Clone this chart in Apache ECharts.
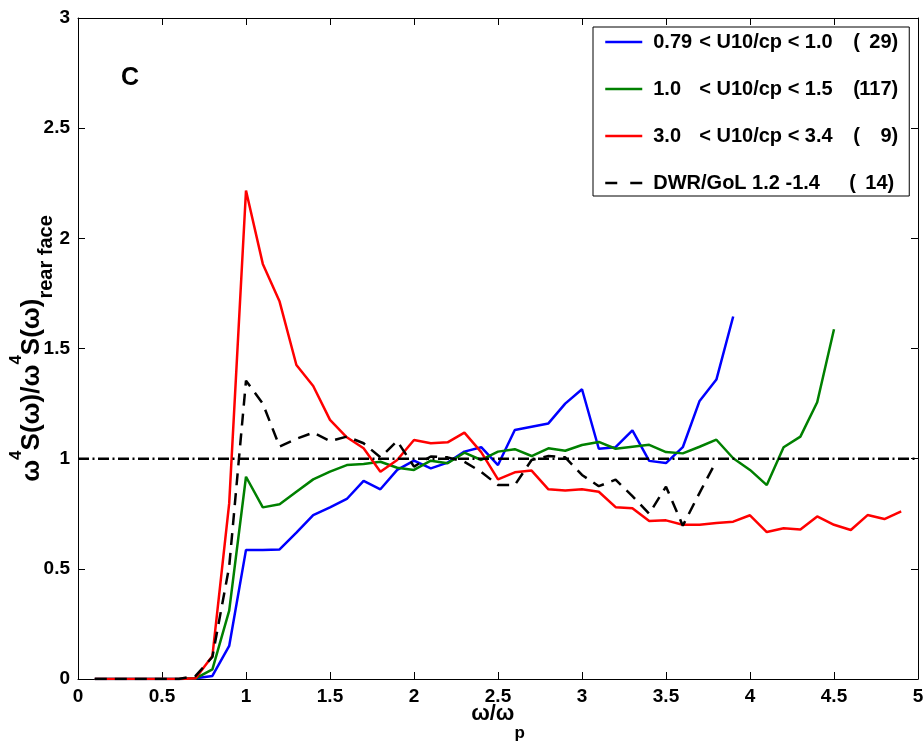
<!DOCTYPE html>
<html>
<head>
<meta charset="utf-8">
<script src="https://cdn.jsdelivr.net/npm/echarts@6/dist/echarts.min.js"></script>
<style>
  html, body { margin: 0; padding: 0; background: #fff; }
  #chart { width: 924px; height: 742px; }
</style>
</head>
<body>
<div id="chart"></div>
<script>
// Normalised frequency ω/ωp
var freq = [0.1, 0.2, 0.3, 0.4, 0.5, 0.6, 0.7, 0.8, 0.9, 1.0,
            1.1, 1.2, 1.3, 1.4, 1.5, 1.6, 1.7, 1.8, 1.9, 2.0,
            2.1, 2.2, 2.3, 2.4, 2.5, 2.6, 2.7, 2.8, 2.9, 3.0,
            3.1, 3.2, 3.3, 3.4, 3.5, 3.6, 3.7, 3.8, 3.9, 4.0,
            4.1, 4.2, 4.3, 4.4, 4.5, 4.6, 4.7, 4.8, 4.9];

// 0.79 < U10/cp < 1.0 (29 spectra), up to 3.9
var lowAge = [0, 0, 0, 0, 0, 0, 0.003, 0.014, 0.15, 0.586,
              0.586, 0.588, 0.664, 0.744, 0.779, 0.817, 0.899, 0.861, 0.949, 0.991,
              0.956, 0.982, 1.032, 1.052, 0.971, 1.13, 1.145, 1.16, 1.25, 1.315,
              1.045, 1.052, 1.128, 0.99, 0.98, 1.052, 1.262, 1.359, 1.645];

// 1.0 < U10/cp < 1.5 (117 spectra), up to 4.5
var midAge = [0, 0, 0, 0, 0, 0, 0.003, 0.044, 0.31, 0.918,
              0.779, 0.793, 0.85, 0.906, 0.941, 0.971, 0.976, 0.986, 0.959, 0.949,
              0.991, 0.979, 1.027, 0.994, 1.032, 1.043, 1.012, 1.047, 1.036, 1.062,
              1.076, 1.045, 1.054, 1.063, 1.03, 1.024, 1.054, 1.086, 1.002, 0.949,
              0.88, 1.052, 1.10, 1.256, 1.587];

// 3.0 < U10/cp < 3.4 (9 spectra), up to 4.9
var highAge = [0, 0, 0, 0, 0, 0, 0.003, 0.104, 0.797, 2.217,
               1.884, 1.713, 1.425, 1.33, 1.176, 1.097, 1.047, 0.941, 0.994, 1.085,
               1.07, 1.074, 1.118, 1.03, 0.906, 0.938, 0.946, 0.861, 0.855, 0.861,
               0.85, 0.78, 0.775, 0.717, 0.72, 0.70, 0.70, 0.708, 0.714, 0.743,
               0.667, 0.684, 0.679, 0.738, 0.70, 0.676, 0.744, 0.726, 0.761];

// DWR/GoL 1.2 - 1.4 (14 spectra), up to 3.8
var dwrGol = [0, 0, 0, 0, 0, 0, 0.014, 0.10, 0.51, 1.354,
              1.25, 1.055, 1.09, 1.118, 1.08, 1.10, 1.07, 1.006, 1.08, 0.964,
              1.01, 1.006, 0.986, 0.94, 0.88, 0.88, 0.994, 1.012, 1.006, 0.926,
              0.875, 0.905, 0.83, 0.75, 0.873, 0.696, 0.845, 0.99];

// Unit reference level
var refX = [0, 5];
var refY = [1, 1];

var seriesNames = ['0.79 < U10/cp < 1.0', '1.0 < U10/cp < 1.5', '3.0 < U10/cp < 3.4', 'DWR/GoL 1.2 -1.4'];
var legendParts = [
  ['0.79', '< U10/cp < 1.0', '29)'],
  ['1.0', '< U10/cp < 1.5', '117)'],
  ['3.0', '< U10/cp < 3.4', '9)'],
  ['DWR/GoL 1.2 -1.4', '', '14)']
];

function pairs(xs, ys) {
  var out = [];
  for (var i = 0; i < ys.length; i++) out.push([xs[i], ys[i]]);
  return out;
}

var FONT = '"Liberation Sans", Arial, Helvetica, sans-serif';

var chart = echarts.init(document.getElementById('chart'), null, { renderer: 'canvas' });

var axisCommon = {
  type: 'value',
  splitLine: { show: false },
  axisLine: { show: true, onZero: false, lineStyle: { color: '#000', width: 1 } },
  axisTick: { show: true, inside: true, length: 7, lineStyle: { color: '#000', width: 1 } }
};

var tickLabel = { color: '#000', fontFamily: FONT, fontWeight: 'bold', fontSize: 19, margin: 8 };

function legendRich(w, extra) {
  return Object.assign({ width: w, fontFamily: FONT, fontWeight: 'bold', fontSize: 20, color: '#000' }, extra || {});
}

var option = {
  animation: false,
  backgroundColor: '#fff',
  grid: { left: 78, right: 6, top: 18, bottom: 63, containLabel: false, outerBoundsMode: 'none' },
  xAxis: [
    Object.assign({}, axisCommon, {
      position: 'bottom', min: 0, max: 5, interval: 0.5,
      axisLabel: tickLabel,
      name: '{n|ω/ω}{sub|p}',
      nameLocation: 'middle',
      nameGap: 24,
      nameMoveOverlap: false,
      nameTextStyle: {
        color: '#000', fontFamily: FONT, fontWeight: 'bold', fontSize: 22,
        rich: {
          n: { fontFamily: FONT, fontWeight: 'bold', fontSize: 22, lineHeight: 24, verticalAlign: 'top', color: '#000' },
          sub: { fontFamily: FONT, fontWeight: 'bold', fontSize: 17, lineHeight: 18, padding: [22, 0, 0, 0], verticalAlign: 'top', color: '#000' }
        }
      }
    }),
    Object.assign({}, axisCommon, {
      position: 'top', min: 0, max: 5, interval: 0.5,
      axisLabel: { show: false }
    })
  ],
  yAxis: [
    Object.assign({}, axisCommon, {
      position: 'left', min: 0, max: 3, interval: 0.5,
      axisLabel: tickLabel,
      name: '{n|ω}{sup|4}{n|S(ω)/ω}{sup|4}{n|S(ω)}{sub|rear face}',
      nameLocation: 'middle',
      nameRotate: 90,
      nameGap: 44,
      nameMoveOverlap: false,
      nameTextStyle: {
        color: '#000', fontFamily: FONT, fontWeight: 'bold', fontSize: 26,
        rich: {
          n: { fontFamily: FONT, fontWeight: 'bold', fontSize: 26, lineHeight: 26, padding: [11, 0, 0, 0], verticalAlign: 'top', color: '#000' },
          sup: { fontFamily: FONT, fontWeight: 'bold', fontSize: 17, lineHeight: 18, verticalAlign: 'top', color: '#000' },
          sub: { fontFamily: FONT, fontWeight: 'bold', fontSize: 20, lineHeight: 20, padding: [28, 0, 0, 0], verticalAlign: 'top', color: '#000' }
        }
      }
    }),
    Object.assign({}, axisCommon, {
      position: 'right', min: 0, max: 3, interval: 0.5,
      axisLabel: { show: false }
    })
  ],
  legend: {
    show: true,
    orient: 'vertical',
    left: 593,
    top: 27,
    padding: [5, 11, 3, 11],
    itemGap: 27,
    itemWidth: 37,
    itemHeight: 14,
    backgroundColor: '#fff',
    borderColor: '#000',
    borderWidth: 1,
    borderRadius: 0,
    itemStyle: { color: 'rgba(0,0,0,0)', borderWidth: 0, opacity: 0 },
    data: [
      { name: seriesNames[0], lineStyle: { color: '#0000ff', width: 2.5, type: 'solid' } },
      { name: seriesNames[1], lineStyle: { color: '#008000', width: 2.5, type: 'solid' } },
      { name: seriesNames[2], lineStyle: { color: '#ff0000', width: 2.5, type: 'solid' } },
      { name: seriesNames[3], lineStyle: { color: '#000', width: 2.5, type: [12, 13] } }
    ],
    formatter: function (name) {
      var p = legendParts[seriesNames.indexOf(name)];
      if (p[1] === '') return '{e|' + p[0] + '}{c|(}{d|' + p[2] + '}';
      return '{a|' + p[0] + '}{b|' + p[1] + '}{c|(}{d|' + p[2] + '}';
    },
    textStyle: {
      color: '#000', fontFamily: FONT, fontWeight: 'bold', fontSize: 20, lineHeight: 20,
      padding: [0, 0, 0, 6],
      rich: {
        a: legendRich(46),
        b: legendRich(154),
        e: legendRich(196),
        c: legendRich(10),
        d: legendRich(35, { align: 'right' })
      }
    }
  },
  graphic: [
    {
      type: 'text',
      left: 121,
      top: 66,
      style: { text: 'C', fill: '#000', font: 'bold 25px ' + FONT }
    }
  ],
  series: [
    {
      name: seriesNames[0], type: 'line', symbol: 'none',
      data: pairs(freq, lowAge),
      lineStyle: { color: '#0000ff', width: 2.5 },
      itemStyle: { color: '#0000ff' },
      z: 2
    },
    {
      name: seriesNames[1], type: 'line', symbol: 'none',
      data: pairs(freq, midAge),
      lineStyle: { color: '#008000', width: 2.5 },
      itemStyle: { color: '#008000' },
      z: 3
    },
    {
      name: seriesNames[2], type: 'line', symbol: 'none',
      data: pairs(freq, highAge),
      lineStyle: { color: '#ff0000', width: 2.5 },
      itemStyle: { color: '#ff0000' },
      z: 4
    },
    {
      name: seriesNames[3], type: 'line', symbol: 'none',
      data: pairs(freq, dwrGol),
      lineStyle: { color: '#000', width: 2.5, type: [12, 8] },
      itemStyle: { color: '#000' },
      z: 5
    },
    {
      name: 'reference', type: 'line', symbol: 'none',
      data: pairs(refX, refY),
      lineStyle: { color: '#000', width: 2.5, type: [11, 3.5, 2, 3.5] },
      itemStyle: { color: '#000' },
      silent: true,
      z: 6
    }
  ]
};

chart.setOption(option);
</script>
</body>
</html>
